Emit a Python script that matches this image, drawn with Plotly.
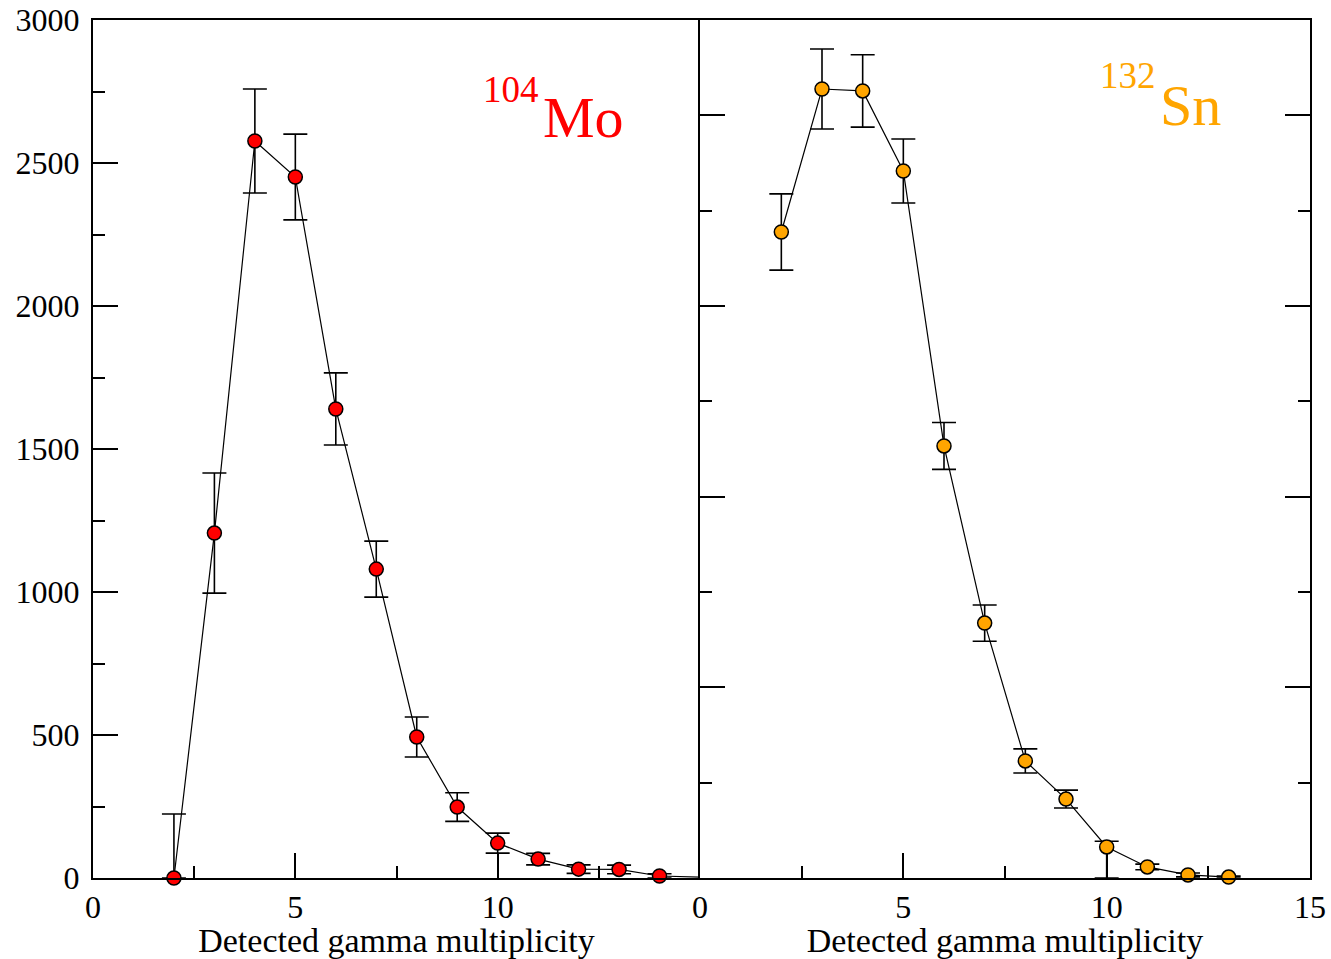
import plotly.graph_objects as go

# Gamma multiplicity distributions for two fragments
mult_mo = [2, 3, 4, 5, 6, 7, 8, 9, 10, 11, 12, 13, 14, 15]
counts_mo = [0, 1206, 2577, 2451, 1640, 1080, 493, 248, 122, 66, 31, 30, 7, 3]
err_up_mo = [224, 210, 182, 150, 126, 98, 70, 50, 35, 20, 15, 15, 8, 0]
err_dn_mo = [0, 210, 182, 150, 126, 98, 70, 50, 35, 20, 15, 15, 7, 0]

mult_sn = [2, 3, 4, 5, 6, 7, 8, 9, 10, 11, 12, 13]
counts_sn = [3388, 4138, 4128, 3708, 2266, 1337, 614, 414, 163, 58, 16, 5]
err_up_sn = [200, 210, 190, 168, 123, 95, 63, 47, 30, 15, 10, 5]
err_dn_sn = [200, 210, 190, 168, 123, 95, 63, 47, 163, 15, 10, 5]

x_ticks = [0, 5, 10]
y_ticks_left = [0, 500, 1000, 1500, 2000, 2500, 3000]

SERIF = "Liberation Serif"
RED = "#ff0000"
ORANGE = "#ffa500"

fig = go.Figure()

# 104Mo panel
fig.add_trace(go.Scatter(x=mult_mo, y=counts_mo, mode="lines",
                         line=dict(color="black", width=1.2),
                         xaxis="x", yaxis="y", showlegend=False,
                         hoverinfo="skip", cliponaxis=False))
fig.add_trace(go.Scatter(
    x=mult_mo[:-1], y=counts_mo[:-1], mode="markers",
    marker=dict(size=14, color=RED, line=dict(color="black", width=1.5)),
    error_y=dict(type="data", symmetric=False, array=err_up_mo[:-1],
                 arrayminus=err_dn_mo[:-1], color="black", thickness=1.6, width=12),
    xaxis="x", yaxis="y", showlegend=False, cliponaxis=False))

# 132Sn panel
fig.add_trace(go.Scatter(x=mult_sn, y=counts_sn, mode="lines",
                         line=dict(color="black", width=1.2),
                         xaxis="x2", yaxis="y2", showlegend=False,
                         hoverinfo="skip", cliponaxis=False))
fig.add_trace(go.Scatter(
    x=mult_sn, y=counts_sn, mode="markers",
    marker=dict(size=14, color=ORANGE, line=dict(color="black", width=1.5)),
    error_y=dict(type="data", symmetric=False, array=err_up_sn,
                 arrayminus=err_dn_sn, color="black", thickness=1.6, width=12),
    xaxis="x2", yaxis="y2", showlegend=False, cliponaxis=False))

split = 607 / 1217

axis_common = dict(showgrid=False, zeroline=False, showline=True,
                   linecolor="black", linewidth=2, ticks="inside",
                   tickcolor="black", tickwidth=2, ticklen=25,
                   automargin=False,
                   tickfont=dict(family=SERIF, size=32, color="black"))
minor_common = dict(ticks="inside", ticklen=12, tickcolor="black",
                    tickwidth=2, showgrid=False)
title_font = dict(family=SERIF, size=34, color="black")

fig.update_layout(
    width=1331, height=959,
    margin=dict(l=93, r=21, t=20, b=81),
    paper_bgcolor="white", plot_bgcolor="white",
    xaxis=dict(domain=[0, split], range=[0, 15], tickvals=x_ticks,
               mirror=True, minor=dict(dtick=2.5, tick0=0, **minor_common),
               title=dict(text="Detected gamma multiplicity",
                          font=title_font, standoff=2),
               **axis_common),
    yaxis=dict(domain=[0, 1], range=[0, 3000], tickvals=y_ticks_left,
               minor=dict(dtick=250, tick0=0, **minor_common),
               ticklabelstandoff=5,
               anchor="x", **axis_common),
    xaxis2=dict(domain=[split, 1], range=[0, 15], tickvals=[0, 5, 10, 15],
                mirror=True, minor=dict(dtick=2.5, tick0=0, **minor_common),
                title=dict(text="Detected gamma multiplicity",
                           font=title_font, standoff=2),
                anchor="y2", **axis_common),
    yaxis2=dict(domain=[0, 1], range=[0, 4500], dtick=1000, tick0=0,
                showticklabels=False, mirror="ticks",
                minor=dict(dtick=500, tick0=0, **minor_common),
                anchor="x2", **axis_common),
)

# Nuclide labels
fig.add_annotation(x=11.07, y=2540, xref="x", yref="y", text="Mo",
                   showarrow=False, xanchor="left", yanchor="bottom",
                   font=dict(family=SERIF, size=58, color=RED))
fig.add_annotation(x=11.07, y=2680, xref="x", yref="y", text="104",
                   showarrow=False, xanchor="right", yanchor="bottom",
                   font=dict(family=SERIF, size=37, color=RED))
fig.add_annotation(x=11.27, y=3870, xref="x2", yref="y2", text="Sn",
                   showarrow=False, xanchor="left", yanchor="bottom",
                   font=dict(family=SERIF, size=58, color=ORANGE))
fig.add_annotation(x=11.27, y=4090, xref="x2", yref="y2", text="132",
                   showarrow=False, xanchor="right", yanchor="bottom",
                   font=dict(family=SERIF, size=37, color=ORANGE))

fig.write_html("out.html")
